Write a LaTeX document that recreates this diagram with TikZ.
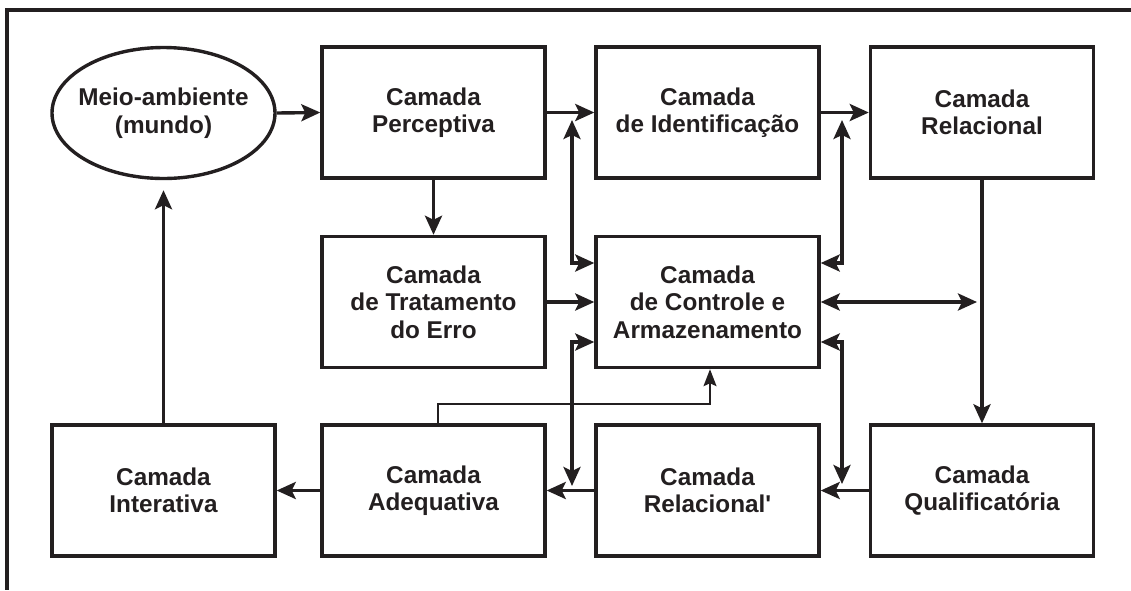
\documentclass[tikz,border=0pt]{standalone}
\usepackage{fontspec}
\setmainfont{Liberation Sans}[Ligatures=TeXOff]
\usetikzlibrary{shapes.geometric,arrows.meta}
\definecolor{ink}{RGB}{35,31,32}
\begin{document}
\begin{tikzpicture}[x=1pt,y=-1pt,color=ink,
  txt/.style={align=center,font=\bfseries\fontsize{24.3}{27.5}\selectfont,text=ink},
  box/.style={txt,draw=ink,line width=3.4pt,minimum width=223pt,minimum height=131pt,inner sep=0pt},
  oval/.style={ellipse,draw=ink,line width=3.4pt,minimum width=223pt,minimum height=131pt,inner sep=0pt},
  tip/.tip={Stealth[length=19pt,width=17pt,inset=4pt]},
  arr/.style={line width=3.4pt,-tip},
  darr/.style={line width=3.4pt,tip-tip},
  tarr/.style={line width=2pt,-{Stealth[length=17pt,width=13pt,inset=3pt]}}
]
\useasboundingbox (0,0) rectangle (1131,590);
% frame
\draw[line width=3.5pt] (1131,10) -- (7,10) -- (7,590);

% nodes
\node[oval] (env) at (163.5,113) {};
\node[txt] (envtxt) at (env.center) {Meio-ambiente\\(mundo)};
\node[box] (perc) at (433.5,112.5) {Camada\\Perceptiva};
\node[box] (ident) at (707.5,112.5) {Camada\\de Identificação};
\node[box] (rel) at (982,112.5) {Camada\\Relacional};
\node[box] (trat) at (433.5,302) {Camada\\de Tratamento\\do Erro};
\node[box] (ctrl) at (707.5,302) {Camada\\de Controle e\\Armazenamento};
\node[box] (inter) at (163.5,490.5) {Camada\\Interativa};
\node[box] (adeq) at (433.5,490.5) {Camada\\Adequativa};
\node[box] (relp) at (707.5,490.5) {Camada\\Relacional'};
\node[box] (qual) at (982,490.5) {Camada\\Qualificatória};

% free ends
\coordinate (lu) at (572,120);
\coordinate (ru) at (842,120);
\coordinate (ld) at (572,486);
\coordinate (rd) at (842,484);
\coordinate (rm) at (977,302);
\coordinate (tb) at (710,404);

% connectors
\draw[arr] (env.east) -- (perc.west);
\draw[arr] (perc.east) -- (ident.west);
\draw[arr] (ident.east) -- (rel.west);
\draw[arr] (perc.south) -- (trat.north);
\draw[arr] (trat.east) -- (ctrl.west);
\draw[darr] (lu) |- ([yshift=39pt]ctrl.west);
\draw[darr] (ru) |- ([yshift=39pt]ctrl.east);
\draw[darr] (ctrl.east) -- (rm);
\draw[arr] (rel.south) -- (qual.north);
\draw[arr] (qual.west) -- (relp.east);
\draw[darr] ([yshift=-40pt]ctrl.east) -| (rd);
\draw[darr] ([yshift=-40pt]ctrl.west) -| (ld);
\draw[arr] (relp.west) -- (adeq.east);
\draw[arr] (adeq.west) -- (inter.east);
\draw[arr] (inter.north) -- ([yshift=-10pt]env.south);
\draw[tarr] ([xshift=4.5pt]adeq.north) |- (tb) -- (tb |- ctrl.south);
\end{tikzpicture}
\end{document}
